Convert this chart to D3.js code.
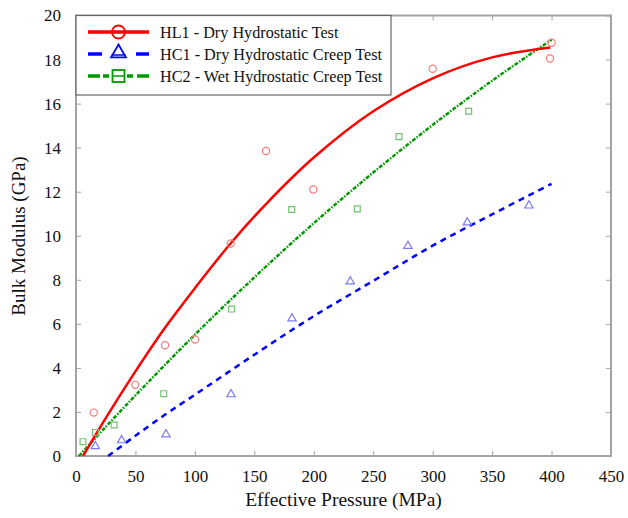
<!DOCTYPE html>
<html>
<head>
<meta charset="utf-8">
<script src="https://cdn.jsdelivr.net/npm/d3@7"></script>
<style>
  html, body { margin: 0; padding: 0; background: #fff; }
  svg { display: block; }
  svg text { font-family: "Liberation Serif", "Tinos", "Times New Roman", "Nimbus Roman", "DejaVu Serif", serif !important; fill: #111; }
</style>
</head>
<body>
<svg id="chart" width="628" height="518"></svg>
<script>
// ---------- data ----------
const xTicks = [0, 50, 100, 150, 200, 250, 300, 350, 400, 450];
const yTicks = [0, 2, 4, 6, 8, 10, 12, 14, 16, 18, 20];

const seriesNames = [
  "HL1 - Dry Hydrostatic Test",
  "HC1 - Dry Hydrostatic Creep Test",
  "HC2 - Wet Hydrostatic Creep Test"
];

// measured points (MPa, GPa)
const hl1Points = [[14.9,1.97],[49.9,3.23],[74.9,5.03],[100.1,5.29],[130.1,9.65],[159.8,13.85],[199.6,12.1],[300,17.58],[398.7,18.05],[400.1,18.76]];
const hc1Points = [[16.3,0.44],[38.4,0.71],[75.7,0.98],[130.4,2.8],[181.7,6.24],[230.7,7.92],[279.2,9.54],[329.1,10.6],[381,11.37]];
const hc2Points = [[5.9,0.65],[16.3,1.07],[32,1.41],[73.8,2.83],[130.9,6.67],[181.4,11.19],[236.6,11.22],[271.7,14.5],[330.3,15.65]];

// fitted trend lines
const hl1Fit = [[5.9,0],[25,1.72],[50,3.84],[75,5.83],[100,7.62],[130,9.65],[160,11.45],[200,13.55],[250,15.65],[300,17.15],[350,18.1],[399,18.55]];
const hc1Fit = [[27,0],[50,0.92],[75,1.88],[100,2.78],[150,4.6],[200,6.35],[250,7.95],[300,9.55],[350,10.97],[400,12.36]];
const hc2Fit = [[2.5,0],[25,1.32],[50,2.75],[100,5.51],[150,8.11],[200,10.57],[250,12.87],[300,15.03],[350,17.04],[400,18.9]];

// ---------- layout ----------
const svg = d3.select("#chart");
const L = 76, R = 611, T = 15.5, B = 456;
const x = d3.scaleLinear().domain([0, 450]).range([L, R]);
const y = d3.scaleLinear().domain([0, 20]).range([B, T]);

const colors = { red: "#ff0000", blue: "#0000ff", green: "#009a00" };
const faded = { red: "#f47a7a", blue: "#7b7bf0", green: "#72c072" };
const axisColor = "#a3a3a3";
const serif = "'Liberation Serif', Tinos, 'Times New Roman', 'DejaVu Serif', serif";

// ---------- axes frame ----------
const g = svg.append("g");
function styleAxis(sel) {
  sel.attr("font-family", serif);
  sel.select(".domain").remove();
  sel.selectAll(".tick line").attr("stroke", axisColor).attr("stroke-width", 1);
}
g.append("g").attr("transform", `translate(0,${B})`)
  .call(d3.axisBottom(x).tickValues(xTicks).tickSizeInner(-5).tickSizeOuter(0).tickPadding(14))
  .call(styleAxis)
  .call(s => s.selectAll("text").attr("font-size", 17).attr("fill", "#111"));
g.append("g").attr("transform", `translate(0,${T})`)
  .call(d3.axisTop(x).tickValues(xTicks).tickSizeInner(-5).tickSizeOuter(0).tickFormat(""))
  .call(styleAxis);
g.append("g").attr("transform", `translate(${L},0)`)
  .call(d3.axisLeft(y).tickValues(yTicks).tickSizeInner(-5).tickSizeOuter(0).tickPadding(15))
  .call(styleAxis)
  .call(s => s.selectAll("text").attr("font-size", 17).attr("fill", "#111"));
g.append("g").attr("transform", `translate(${R},0)`)
  .call(d3.axisRight(y).tickValues(yTicks).tickSizeInner(-5).tickSizeOuter(0).tickFormat(""))
  .call(styleAxis);

g.append("rect").attr("x", L).attr("y", T).attr("width", R - L).attr("height", B - T)
  .attr("fill", "none").attr("stroke", axisColor).attr("stroke-width", 2);

// axis titles
svg.append("text").attr("x", (L + R) / 2).attr("y", 506).attr("text-anchor", "middle")
  .attr("font-family", serif).attr("font-size", 19.5).text("Effective Pressure (MPa)");
svg.append("text").attr("transform", `translate(25,236) rotate(-90)`).attr("text-anchor", "middle")
  .attr("font-family", serif).attr("font-size", 19).text("Bulk Modulus (GPa)");

// ---------- lines ----------
const line = d3.line().x(d => x(d[0])).y(d => y(d[1])).curve(d3.curveCatmullRom.alpha(0.5));
const plot = svg.append("g");
plot.append("path").datum(hc2Fit).attr("d", line).attr("fill", "none")
  .attr("stroke", colors.green).attr("stroke-width", 2.5).attr("stroke-dasharray", "4,1.5,1.5,1.5");
plot.append("path").datum(hc1Fit).attr("d", line).attr("fill", "none")
  .attr("stroke", colors.blue).attr("stroke-width", 2.5).attr("stroke-dasharray", "6,5");
plot.append("path").datum(hl1Fit).attr("d", line).attr("fill", "none")
  .attr("stroke", colors.red).attr("stroke-width", 2.5);

// ---------- markers ----------
plot.selectAll(".c").data(hl1Points).join("circle")
  .attr("cx", d => x(d[0])).attr("cy", d => y(d[1])).attr("r", 3.6)
  .attr("fill", "none").attr("stroke", faded.red).attr("stroke-width", 1.2);
const tri = d3.symbol().type(d3.symbolTriangle).size(30);
plot.selectAll(".t").data(hc1Points).join("path")
  .attr("transform", d => `translate(${x(d[0])},${y(d[1])})`).attr("d", tri)
  .attr("fill", "none").attr("stroke", faded.blue).attr("stroke-width", 1.2);
const sq = d3.symbol().type(d3.symbolSquare).size(34);
plot.selectAll(".s").data(hc2Points).join("path")
  .attr("transform", d => `translate(${x(d[0])},${y(d[1])})`).attr("d", sq)
  .attr("fill", "none").attr("stroke", faded.green).attr("stroke-width", 1.2);

// ---------- legend ----------
const lg = svg.append("g");
lg.append("rect").attr("x", L).attr("y", T).attr("width", 315).attr("height", 79.5)
  .attr("fill", "#fff").attr("stroke", "#666").attr("stroke-width", 1.2);
const rowsY = [32, 54, 76];
const lx0 = 88, lx1 = 149, mx = 118.5;
// HL1
lg.append("line").attr("x1", lx0).attr("x2", lx1).attr("y1", rowsY[0]).attr("y2", rowsY[0])
  .attr("stroke", colors.red).attr("stroke-width", 3.5);
lg.append("circle").attr("cx", mx).attr("cy", rowsY[0]).attr("r", 6.5)
  .attr("fill", "none").attr("stroke", colors.red).attr("stroke-width", 1.8);
// HC1
lg.append("line").attr("x1", lx0).attr("x2", 102).attr("y1", rowsY[1]).attr("y2", rowsY[1])
  .attr("stroke", colors.blue).attr("stroke-width", 3.5);
lg.append("line").attr("x1", 136).attr("x2", lx1).attr("y1", rowsY[1]).attr("y2", rowsY[1])
  .attr("stroke", colors.blue).attr("stroke-width", 3.5);
lg.append("path").attr("transform", `translate(${mx},${rowsY[1] - 1})`)
  .attr("d", d3.symbol().type(d3.symbolTriangle).size(95)())
  .attr("fill", "none").attr("stroke", colors.blue).attr("stroke-width", 1.8);
lg.append("line").attr("x1", mx - 7).attr("x2", mx + 7).attr("y1", rowsY[1] + 1).attr("y2", rowsY[1] + 1)
  .attr("stroke", colors.blue).attr("stroke-width", 1.5);
// HC2
[[88, 100], [103, 109], [127, 133], [137, 149]].forEach(s => {
  lg.append("line").attr("x1", s[0]).attr("x2", s[1]).attr("y1", rowsY[2]).attr("y2", rowsY[2])
    .attr("stroke", colors.green).attr("stroke-width", 3.5);
});
lg.append("rect").attr("x", mx - 6).attr("y", rowsY[2] - 6).attr("width", 12).attr("height", 12)
  .attr("fill", "none").attr("stroke", colors.green).attr("stroke-width", 1.8);
lg.append("line").attr("x1", mx - 6).attr("x2", mx + 6).attr("y1", rowsY[2]).attr("y2", rowsY[2])
  .attr("stroke", colors.green).attr("stroke-width", 1.5);

seriesNames.forEach((n, i) => {
  lg.append("text").attr("x", 160).attr("y", rowsY[i]).attr("dy", "0.35em")
    .attr("font-family", serif).attr("font-size", 16.2).text(n);
});
</script>
</body>
</html>
